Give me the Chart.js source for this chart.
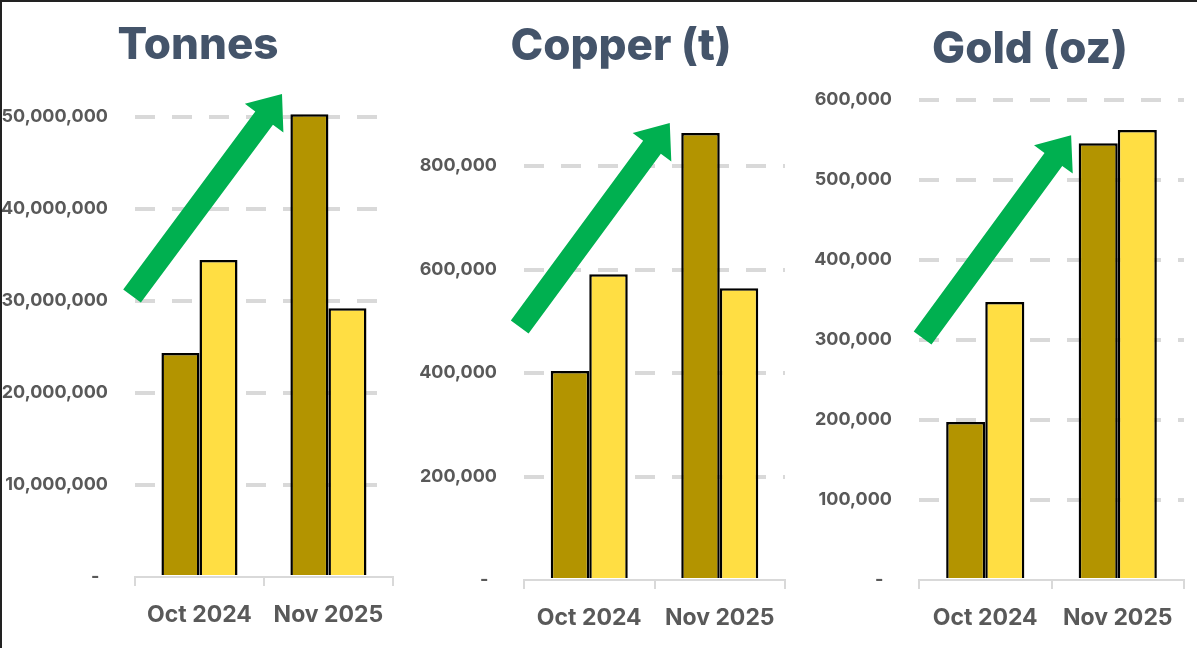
<!DOCTYPE html>
<html><head><meta charset="utf-8">
<script src="https://cdn.jsdelivr.net/npm/chart.js@4"></script>
<style>
html,body{margin:0;padding:0;background:#fff;}
#wrap{position:relative;width:1197px;height:648px;overflow:hidden;background:#fff;}
#frame{position:absolute;left:0;top:0;width:1197px;height:648px;border-style:solid;border-color:#222;border-width:2px 0 0 2px;box-sizing:border-box;pointer-events:none;z-index:5}
canvas{position:absolute;top:0}
.ttl{position:absolute;width:400px;text-align:center;font-family:Inter,"Open Sans",sans-serif;font-weight:800;font-size:44px;line-height:44px;color:#44546a;white-space:nowrap;z-index:3}
</style></head>
<body><div id="wrap">
<canvas id="c1" width="400" height="648" style="left:0"></canvas>
<canvas id="c2" width="400" height="648" style="left:400px"></canvas>
<canvas id="c3" width="397" height="648" style="left:800px"></canvas>
<div class="ttl" id="t1" style="left:-2px;top:21px"></div>
<div class="ttl" id="t2" style="left:421px;top:22px"></div>
<div class="ttl" id="t3" style="left:830px;top:25px"></div>
<div id="frame"></div>
</div>
<script>
const categories = ['Oct 2024', 'Nov 2025'];
const titles = ['Tonnes', 'Copper (t)', 'Gold (oz)'];
const tonnesDark = [24350000, 50300000];
const tonnesLight = [34450000, 29200000];
const copperDark = [404000, 864000];
const copperLight = [591000, 564000];
const goldDark = [197500, 546000];
const goldLight = [347500, 562500];
const yMax = [53000000, 900000, 600000];
const yStep = [10000000, 200000, 100000];
// arrow annotations in data units: [tail category index, tail value, tip category index, tip value]
const arrowTonnes = [-0.523, 30540000, 0.64, 52500000];
const arrowCopper = [-0.533, 488900, 0.617, 883000];
const arrowGold = [-0.473, 302500, 0.648, 556000];

const DARK = '#b39400', LIGHT = '#ffde43', GREEN = '#00b050';
const TICK_C = '#595959', GRID_C = '#d9d9d9';
const FONT = 'Inter, "Open Sans", sans-serif';

['t1', 't2', 't3'].forEach((id, i) => { document.getElementById(id).textContent = titles[i]; });

const arrowPlugin = {
  id: 'greenArrow',
  afterDraw(chart, args, opts) {
    const a = opts.arrow; if (!a) return;
    const xs = chart.scales.x, ys = chart.scales.y;
    const x0 = xs.getPixelForValue(a[0]), y0 = ys.getPixelForValue(a[1]);
    const x1 = xs.getPixelForValue(a[2]), y1 = ys.getPixelForValue(a[3]);
    const dx = x1 - x0, dy = y1 - y0, len = Math.hypot(dx, dy);
    const ux = dx / len, uy = dy / len, nx = -uy, ny = ux;
    const sw = 11, hw = 24, hl = 30;
    const bx = x1 - ux * hl, by = y1 - uy * hl;
    const ctx = chart.ctx;
    ctx.save();
    ctx.fillStyle = GREEN;
    ctx.beginPath();
    ctx.moveTo(x0 + nx * sw, y0 + ny * sw);
    ctx.lineTo(bx + nx * sw, by + ny * sw);
    ctx.lineTo(bx + nx * hw, by + ny * hw);
    ctx.lineTo(x1, y1);
    ctx.lineTo(bx - nx * hw, by - ny * hw);
    ctx.lineTo(bx - nx * sw, by - ny * sw);
    ctx.lineTo(x0 - nx * sw, y0 - ny * sw);
    ctx.closePath();
    ctx.fill();
    ctx.restore();
  }
};

function makeChart(id, idx, dark, light, arrow, cfg) {
  new Chart(document.getElementById(id), {
    type: 'bar',
    data: {
      labels: categories,
      datasets: [
        { data: dark, backgroundColor: DARK, borderColor: '#000', borderWidth: 2.5 },
        { data: light, backgroundColor: LIGHT, borderColor: '#000', borderWidth: 2.5 }
      ]
    },
    options: {
      responsive: false,
      animation: false,
      layout: { padding: { left: 0, right: cfg.padR, top: cfg.padT, bottom: 0 } },
      datasets: { bar: { categoryPercentage: 0.59, barPercentage: 1.0 } },
      plugins: {
        legend: { display: false },
        tooltip: { enabled: false },
        title: { display: false },
        greenArrow: { arrow: arrow }
      },
      scales: {
        x: {
          afterFit(s) { s.height = cfg.xH; },
          grid: { offset: true, drawOnChartArea: false, drawTicks: true, tickLength: 9, color: GRID_C, lineWidth: 2 },
          border: { display: true, color: GRID_C, width: 2 },
          ticks: { color: TICK_C, padding: 15, font: { family: FONT, size: 23, weight: '700' } }
        },
        y: {
          min: 0, max: yMax[idx],
          afterFit(s) { s.width = cfg.yW; },
          afterBuildTicks(s) {
            const t = [];
            for (let v = 0; v <= yMax[idx]; v += yStep[idx]) t.push({ value: v });
            s.ticks = t;
          },
          border: { display: false, dash: [20, 17] },
          grid: {
            drawTicks: false, lineWidth: 4,
            color: c => (c.tick && c.tick.value === 0) ? 'rgba(0,0,0,0)' : GRID_C
          },
          ticks: {
            padding: 27,
            color: TICK_C, font: { family: FONT, size: 18, weight: '700' },
            callback: v => v === 0 ? '-  ' : v.toLocaleString('en-US')
          }
        }
      }
    },
    plugins: [arrowPlugin]
  });
}

makeChart('c1', 0, tonnesDark, tonnesLight, arrowTonnes, { padR: 7, padT: 89.4, yW: 135, xH: 71 });
makeChart('c2', 1, copperDark, copperLight, arrowCopper, { padR: 15, padT: 114.25, yW: 124, xH: 68 });
makeChart('c3', 2, goldDark, goldLight, arrowGold, { padR: 13, padT: 100, yW: 119, xH: 68 });
</script>
</body></html>
